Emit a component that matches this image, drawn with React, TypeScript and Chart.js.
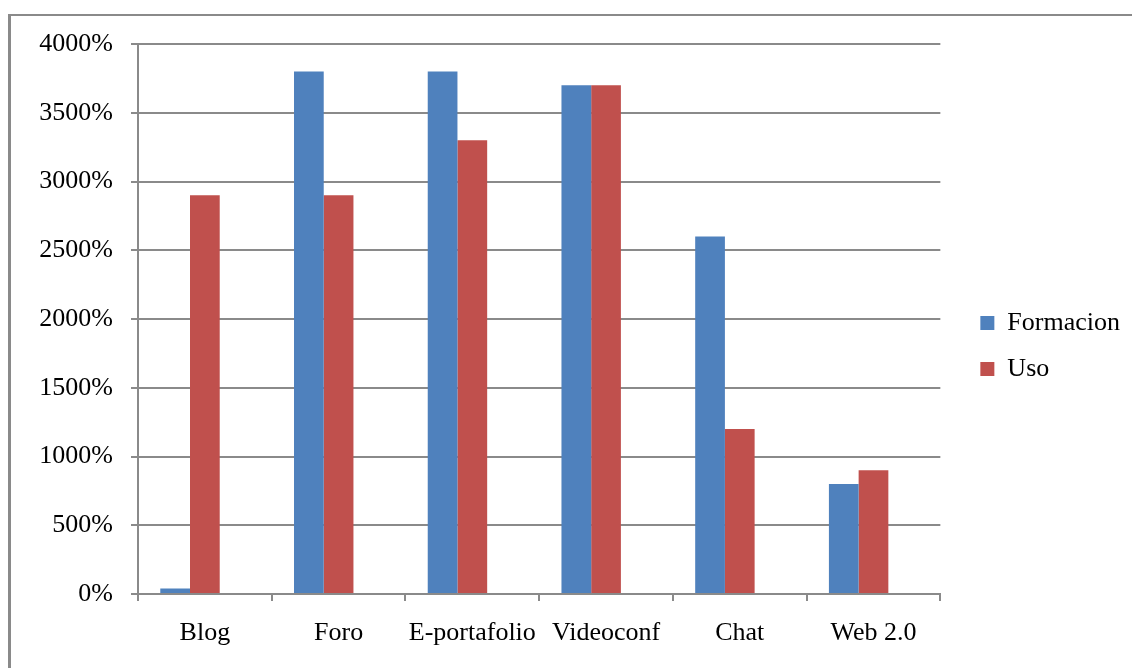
import React, { useEffect, useRef } from "react";
import { Chart, registerables } from "chart.js";

Chart.register(...registerables);

const categories = ["Blog", "Foro", "E-portafolio", "Videoconf", "Chat", "Web 2.0"];
const formacion = [40, 3800, 3800, 3700, 2600, 800];
const uso = [2900, 2900, 3300, 3700, 1200, 900];
const emptySeries = [null, null, null, null, null, null];
const seriesNames = ["Formacion", "Uso"];
const yTicks = { min: 0, max: 4000, step: 500 };

const FONT = "'Liberation Serif', 'Times New Roman', serif";
const GRID = "#8a8a8a";

const legendShift = {
  id: "legendShift",
  afterLayout(chart: any) {
    const lg = chart.legend;
    if (!lg) return;
    lg.left += 20;
    lg.right += 20;
    lg.top -= 10;
    lg.bottom -= 10;
  },
};

export default function App() {
  const ref = useRef<HTMLCanvasElement | null>(null);
  useEffect(() => {
    if (!ref.current) return;
    const chart = new Chart(ref.current, {
      type: "bar",
      data: {
        labels: categories,
        datasets: [
          { label: seriesNames[0], data: formacion, backgroundColor: "#4F81BD", borderWidth: 0 },
          { label: seriesNames[1], data: uso, backgroundColor: "#C0504D", borderWidth: 0 },
          { label: "", data: emptySeries as any, backgroundColor: "#9BBB59", borderWidth: 0 },
        ],
      },
      options: {
        responsive: false,
        animation: false,
        devicePixelRatio: 1,
        layout: { padding: { top: 44, left: 0, right: 22, bottom: 0 } },
        datasets: { bar: { categoryPercentage: 0.6667, barPercentage: 1 } },
        plugins: {
          tooltip: { enabled: false },
          legend: {
            position: "right",
            labels: {
              boxWidth: 14,
              boxHeight: 14,
              padding: 20,
              color: "#000",
              font: { family: FONT, size: 26 },
              filter: (item: any) => item.text !== "",
            },
          },
        },
        scales: {
          x: {
            grid: {
              offset: true,
              drawOnChartArea: false,
              drawTicks: true,
              tickLength: 7,
              color: GRID,
              lineWidth: 2,
            },
            border: { color: GRID, width: 2 },
            ticks: { color: "#000", font: { family: FONT, size: 26 }, padding: 17, maxRotation: 0 },
            afterFit: (s: any) => {
              s.height = 74;
            },
          },
          y: {
            min: yTicks.min,
            max: yTicks.max,
            grid: { color: GRID, lineWidth: 2, tickLength: 7 },
            border: { color: GRID, width: 2 },
            ticks: {
              stepSize: yTicks.step,
              color: "#000",
              font: { family: FONT, size: 26 },
              padding: 18,
              callback: (v: any) => v + "%",
            },
            afterFit: (s: any) => {
              s.width = 138;
            },
          },
        },
      },
      plugins: [legendShift],
    });
    return () => chart.destroy();
  }, []);

  return (
    <div
      style={{
        position: "fixed",
        left: 0,
        top: 0,
        width: 1132,
        height: 668,
        background: "#fff",
        overflow: "hidden",
      }}
    >
      <div
        style={{
          position: "absolute",
          left: 8,
          top: 14,
          width: 1300,
          height: 900,
          borderLeft: `3px solid ${GRID}`,
          borderTop: `2px solid ${GRID}`,
        }}
      />
      <canvas ref={ref} width={1132} height={668} style={{ position: "absolute", left: 0, top: 0 }} />
    </div>
  );
}
